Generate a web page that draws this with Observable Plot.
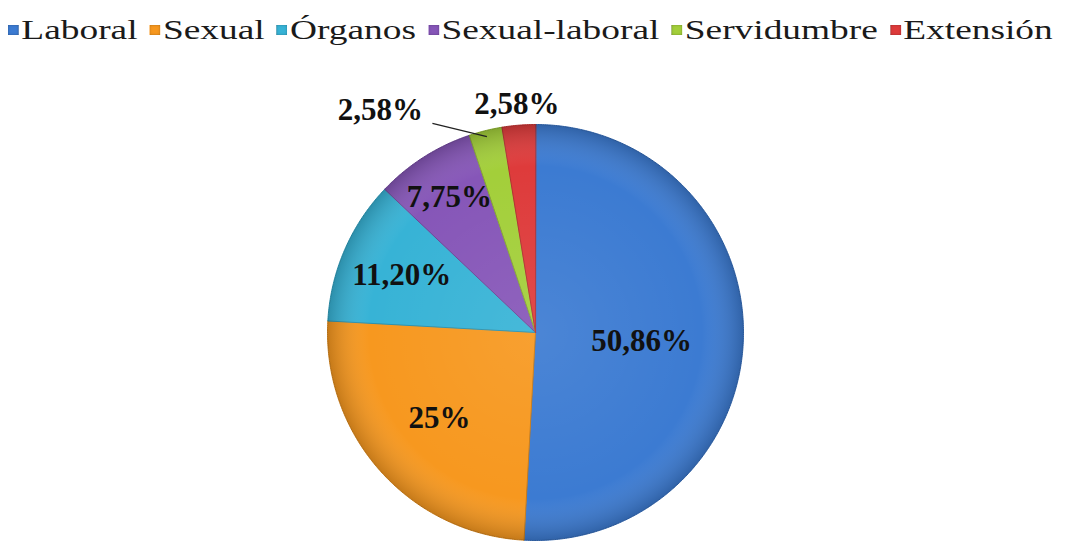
<!DOCTYPE html>
<html><head><meta charset="utf-8">
<script src="https://cdn.jsdelivr.net/npm/d3@7"></script>
<script src="https://cdn.jsdelivr.net/npm/@observablehq/plot@0.6"></script>
<style>
body{margin:0;background:#fff;width:1075px;height:541px;overflow:hidden;font-family:"Liberation Serif","Times New Roman",serif;}
#legend{height:62px;position:relative;}
#legend .inner{position:absolute;left:8px;top:14px;display:flex;align-items:center;white-space:nowrap;font-family:"Liberation Serif",serif;font-size:28px;color:#1a1a1a;transform-origin:0 0;transform:scaleX(1.335);}
.item{display:flex;align-items:center;margin-right:9px;}
.sw{width:8px;height:10px;margin-right:2px;box-shadow:inset 0 0 2px rgba(0,0,0,0.35);}
</style></head><body>
<div id="legend"><div class="inner"></div></div>
<div id="chart"></div>
<script>
const categories = ["Laboral","Sexual","Órganos","Sexual-laboral","Servidumbre","Extensión"];
const percents = [50.86, 25, 11.20, 7.75, 2.58, 2.58];
const labels = ["50,86%","25%","11,20%","7,75%","2,58%","2,58%"];
const colors = ["#3c7bd2","#f7981f","#37b3d6","#8656b8","#a3cf3a","#de3b3b"];

// layout (not data)
const R = 208;
const labelRadius = [0.51, 0.62, 0.7, 0.77, 1.1, 1.1];
const labelShiftX = [0, 0, 0, 0, -100, 0];

// legend
const inner = document.querySelector("#legend .inner");
categories.forEach((c, i) => {
  const it = document.createElement("div"); it.className = "item";
  const sw = document.createElement("div"); sw.className = "sw"; sw.style.background = colors[i];
  const t = document.createElement("span"); t.textContent = c;
  it.append(sw, t); inner.append(it);
});

const total = d3.sum(percents);
let acc = 0;
const slices = percents.map((p, i) => {
  const a0 = acc / total * 2 * Math.PI; acc += p;
  const a1 = acc / total * 2 * Math.PI;
  return {i, cat: categories[i], a0, a1, mid: (a0 + a1) / 2};
});
const pt = (a, r) => [r * Math.sin(a), -r * Math.cos(a)];
const poly = [];
slices.forEach(s => {
  const n = Math.max(4, Math.ceil((s.a1 - s.a0) / (Math.PI / 360)));
  const stroke = d3.color(colors[s.i]).darker(0.6).formatHex();
  poly.push({cat: s.cat, x: 0, y: 0, fill: colors[s.i], stroke});
  for (let k = 0; k <= n; k++) {
    const [x, y] = pt(s.a0 + (s.a1 - s.a0) * k / n, R);
    poly.push({cat: s.cat, x, y, fill: colors[s.i], stroke});
  }
});
const labelData = slices.map(s => {
  const [x, y] = pt(s.mid, labelRadius[s.i] * R);
  return {text: labels[s.i], x: x + labelShiftX[s.i], y: s.i === 0 ? y + 6 : y};
});
const leaders = slices.filter(s => labelShiftX[s.i] !== 0).map(s => {
  const [x1, y1] = pt(s.mid, 0.97 * R);
  const l = labelData[s.i];
  return {x1, y1, x2: l.x + 52, y2: l.y + 13};
});

const chart = Plot.plot({
  width: 1075, height: 479, margin: 0,
  x: {domain: [-535, 540], range: [0, 1075], axis: null},
  y: {domain: [-270, 209], range: [0, 479], axis: null},
  color: {type: "identity"},
  marks: [
    Plot.line(poly, {x: "x", y: "y", z: "cat", fill: "fill", stroke: "stroke", strokeWidth: 1, curve: "linear-closed"}),
    Plot.dot([{x: 0, y: 0}], {x: "x", y: "y", r: R, fill: "url(#shade)", stroke: "none"}),
    Plot.link(leaders, {x1: "x2", y1: "y2", x2: "x1", y2: "y1", stroke: "#222", strokeWidth: 1.3}),
    Plot.text(labelData, {x: "x", y: "y", text: "text", fontSize: 31, fontWeight: "bold", fontFamily: "Liberation Serif, Times New Roman, serif", fill: "#111"})
  ]
});
const ns = "http://www.w3.org/2000/svg";
const defs = document.createElementNS(ns, "defs");
defs.innerHTML = `<radialGradient id="shade" cx="50%" cy="50%" r="50%">
  <stop offset="0%" stop-color="#fff" stop-opacity="0.08"/>
  <stop offset="80%" stop-color="#fff" stop-opacity="0"/>
  <stop offset="100%" stop-color="#000" stop-opacity="0.2"/>
</radialGradient>`;
chart.insertBefore(defs, chart.firstChild);
document.getElementById("chart").append(chart);
</script>
</body></html>
